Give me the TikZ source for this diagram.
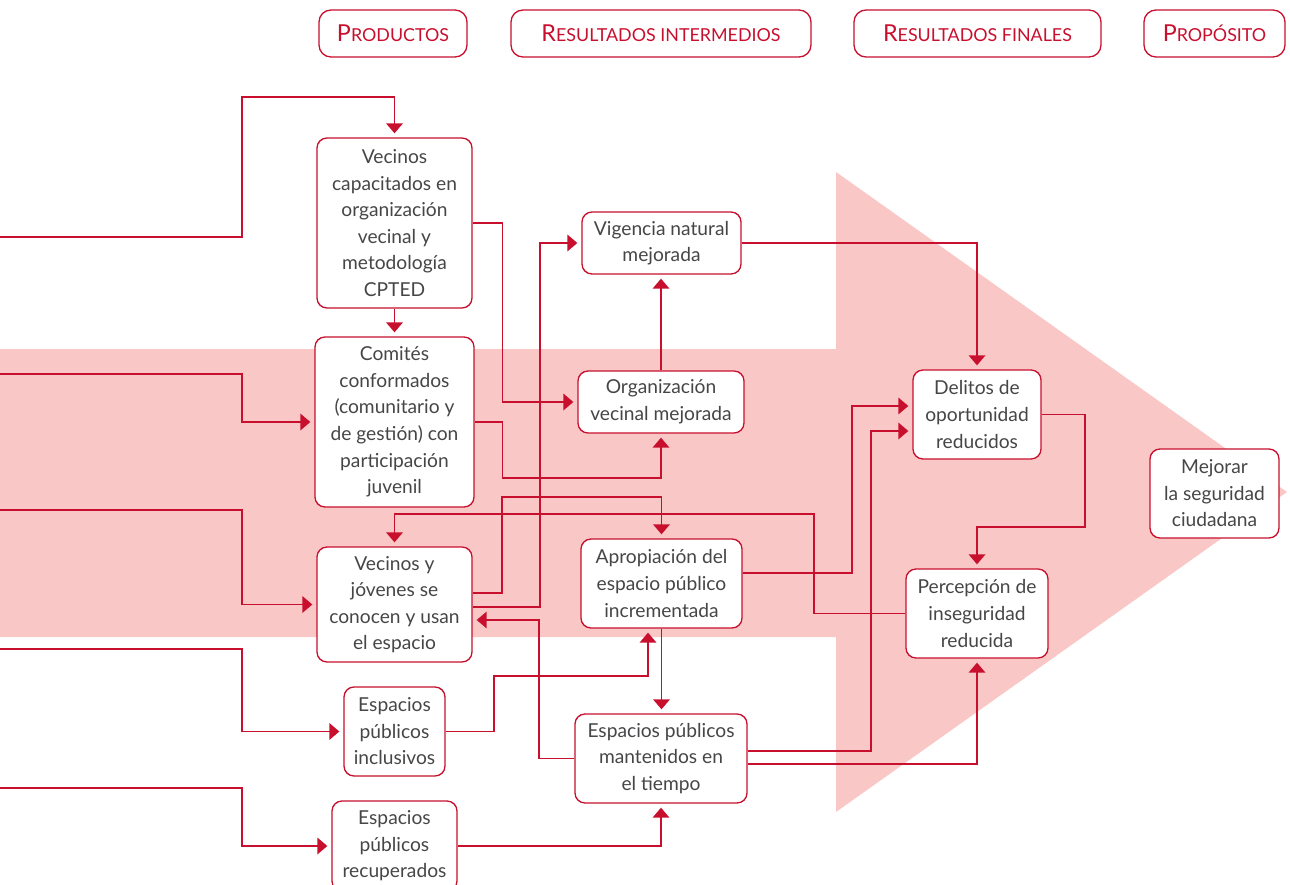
\documentclass[tikz,border=0pt]{standalone}
\usepackage{fontspec}
\setmainfont{Lato}
\usetikzlibrary{arrows.meta}
\definecolor{crim}{RGB}{200,16,46}
\definecolor{blush}{RGB}{249,200,198}
\definecolor{ink}{RGB}{70,70,72}
% column headings in small capitals: large initial, smaller capitals after it
\newcommand\hdr[2]{{\fontsize{17.5}{20}\selectfont #1}{\fontsize{13.4}{16}\selectfont #2}}
\begin{document}
\begin{tikzpicture}[x=0.75pt,y=-0.75pt,
  wh/.style 2 args={minimum width={#1*0.75pt}, minimum height={#2*0.75pt}},
  box/.style={draw=crim, line width=1pt, fill=white, rounded corners=7.5pt,
    inner sep=0pt, align=center, text=ink, font=\fontsize{14.4}{19.9}\selectfont},
  head/.style={draw=crim, line width=1pt, rounded corners=9pt, inner sep=0pt, text=crim},
  link/.style={draw=crim, line width=1.05pt},
  arr/.style={link, -{Triangle[length=7.5pt,width=12.5pt]}, shorten >=3pt},
]
\useasboundingbox (0,0) rectangle (1290,885);

% large background arrow
\fill[blush] (0,349) -- (836,349) -- (836,172) -- (1287,492) -- (836,812)
  -- (836,637) -- (0,637) -- cycle;

% column headings
\node[head, wh={148}{47}] (hprod) at (393,33.5) {\hdr{P}{RODUCTOS}};
\node[head, wh={300}{47}] (hint) at (661,33.5) {\hdr{R}{ESULTADOS INTERMEDIOS}};
\node[head, wh={247}{47}] (hfin) at (977.5,33.5) {\hdr{R}{ESULTADOS FINALES}};
\node[head, wh={141}{47}] (hprop) at (1214.5,33.5) {\hdr{P}{ROPÓSITO}};

% products
\node[box, wh={155}{170}] (vc) at (394.5,223) {Vecinos\\capacitados en\\organización\\vecinal y\\metodología\\CPTED};
\node[box, wh={159}{170}] (com) at (394.5,422) {Comités\\conformados\\(comunitario y\\de gestión) con\\participación\\juvenil};
\node[box, wh={155}{115}] (vj) at (394.5,604.5) {Vecinos y\\jóvenes se\\conocen y usan\\el espacio};
\node[box, wh={101}{89}] (epi) at (394.5,731.5) {Espacios\\públicos\\inclusivos};
\node[box, wh={125}{90}] (epr) at (394.5,846) {Espacios\\públicos\\recuperados};

% intermediate results
\node[box, wh={159}{62}] (vn) at (661.5,243) {Vigencia natural\\mejorada};
\node[box, wh={166}{62}] (ov) at (661,402) {Organización\\vecinal mejorada};
\node[box, wh={161}{89}] (ap) at (661.5,583.5) {Apropiación del\\espacio público\\incrementada};
\node[box, wh={172}{89}] (epm) at (661,758.5) {Espacios públicos\\mantenidos en\\el tiempo};

% final results and purpose
\node[box, wh={128}{89}] (del) at (977,414.5) {Delitos de\\oportunidad\\reducidos};
\node[box, wh={142}{89}] (per) at (977,613.5) {Percepción de\\inseguridad\\reducida};
\node[box, wh={129}{89}] (mej) at (1214.5,493.5) {Mejorar\\la seguridad\\ciudadana};

% incoming lines from the left edge
\coordinate (in1) at (0,237);
\coordinate (in2) at (0,374);
\coordinate (in3) at (0,510);
\coordinate (in4) at (0,649);
\coordinate (in5) at (0,788);

\draw[arr] (in1) -- ++(242,0) |- (vc.north |- 0,97) -- (vc.north);
\draw[arr] (in2) -- ++(242,0) |- (com.west);
\draw[arr] (in3) -- ++(242,0) |- (vj.west);
\draw[arr] (in4) -- ++(242,0) |- (epi.west);
\draw[arr] (in5) -- ++(242,0) |- (epr.west);

% links between boxes
\draw[arr] (vc.south) -- (com.north);
\draw[arr] (per.west) -| (814,514) -| (vj.north);
\draw[arr] (vc.east) -- ++(30,0) |- (ov.west);
\draw[arr] (com.east) -- ++(28,0) |- (ov.south |- 0,478) -- (ov.south);
\draw[arr] (vj.east |- 0,593) -| (502,497) -| (ap.north);
\draw[arr] (vj.east |- 0,607) -| (540,243) -- (vn.west);
\draw[arr] (epm.west) -| (539,620) -- (vj.east |- 0,620);
\draw[arr] (ap.south) -- (ap.south |- epm.north);
\draw[arr] (epi.east) -| (494,676) -| (ap.south -| 648,0);
\draw[arr] (epr.east) -| (epm.south);
\draw[arr] (ov.north) -- (ov.north |- vn.south);
\draw[arr] (vn.east) -| (del.north);
\draw[arr] (ap.east |- 0,573) -| (852,406) -- (del.west |- 0,406);
\draw[arr] (epm.east |- 0,751) -| (871,431) -- (del.west |- 0,431);
\draw[arr] (epm.east |- 0,764) -| (per.south);
\draw[arr] (del.east) -| (1085,527) -| (per.north);
\end{tikzpicture}
\end{document}
